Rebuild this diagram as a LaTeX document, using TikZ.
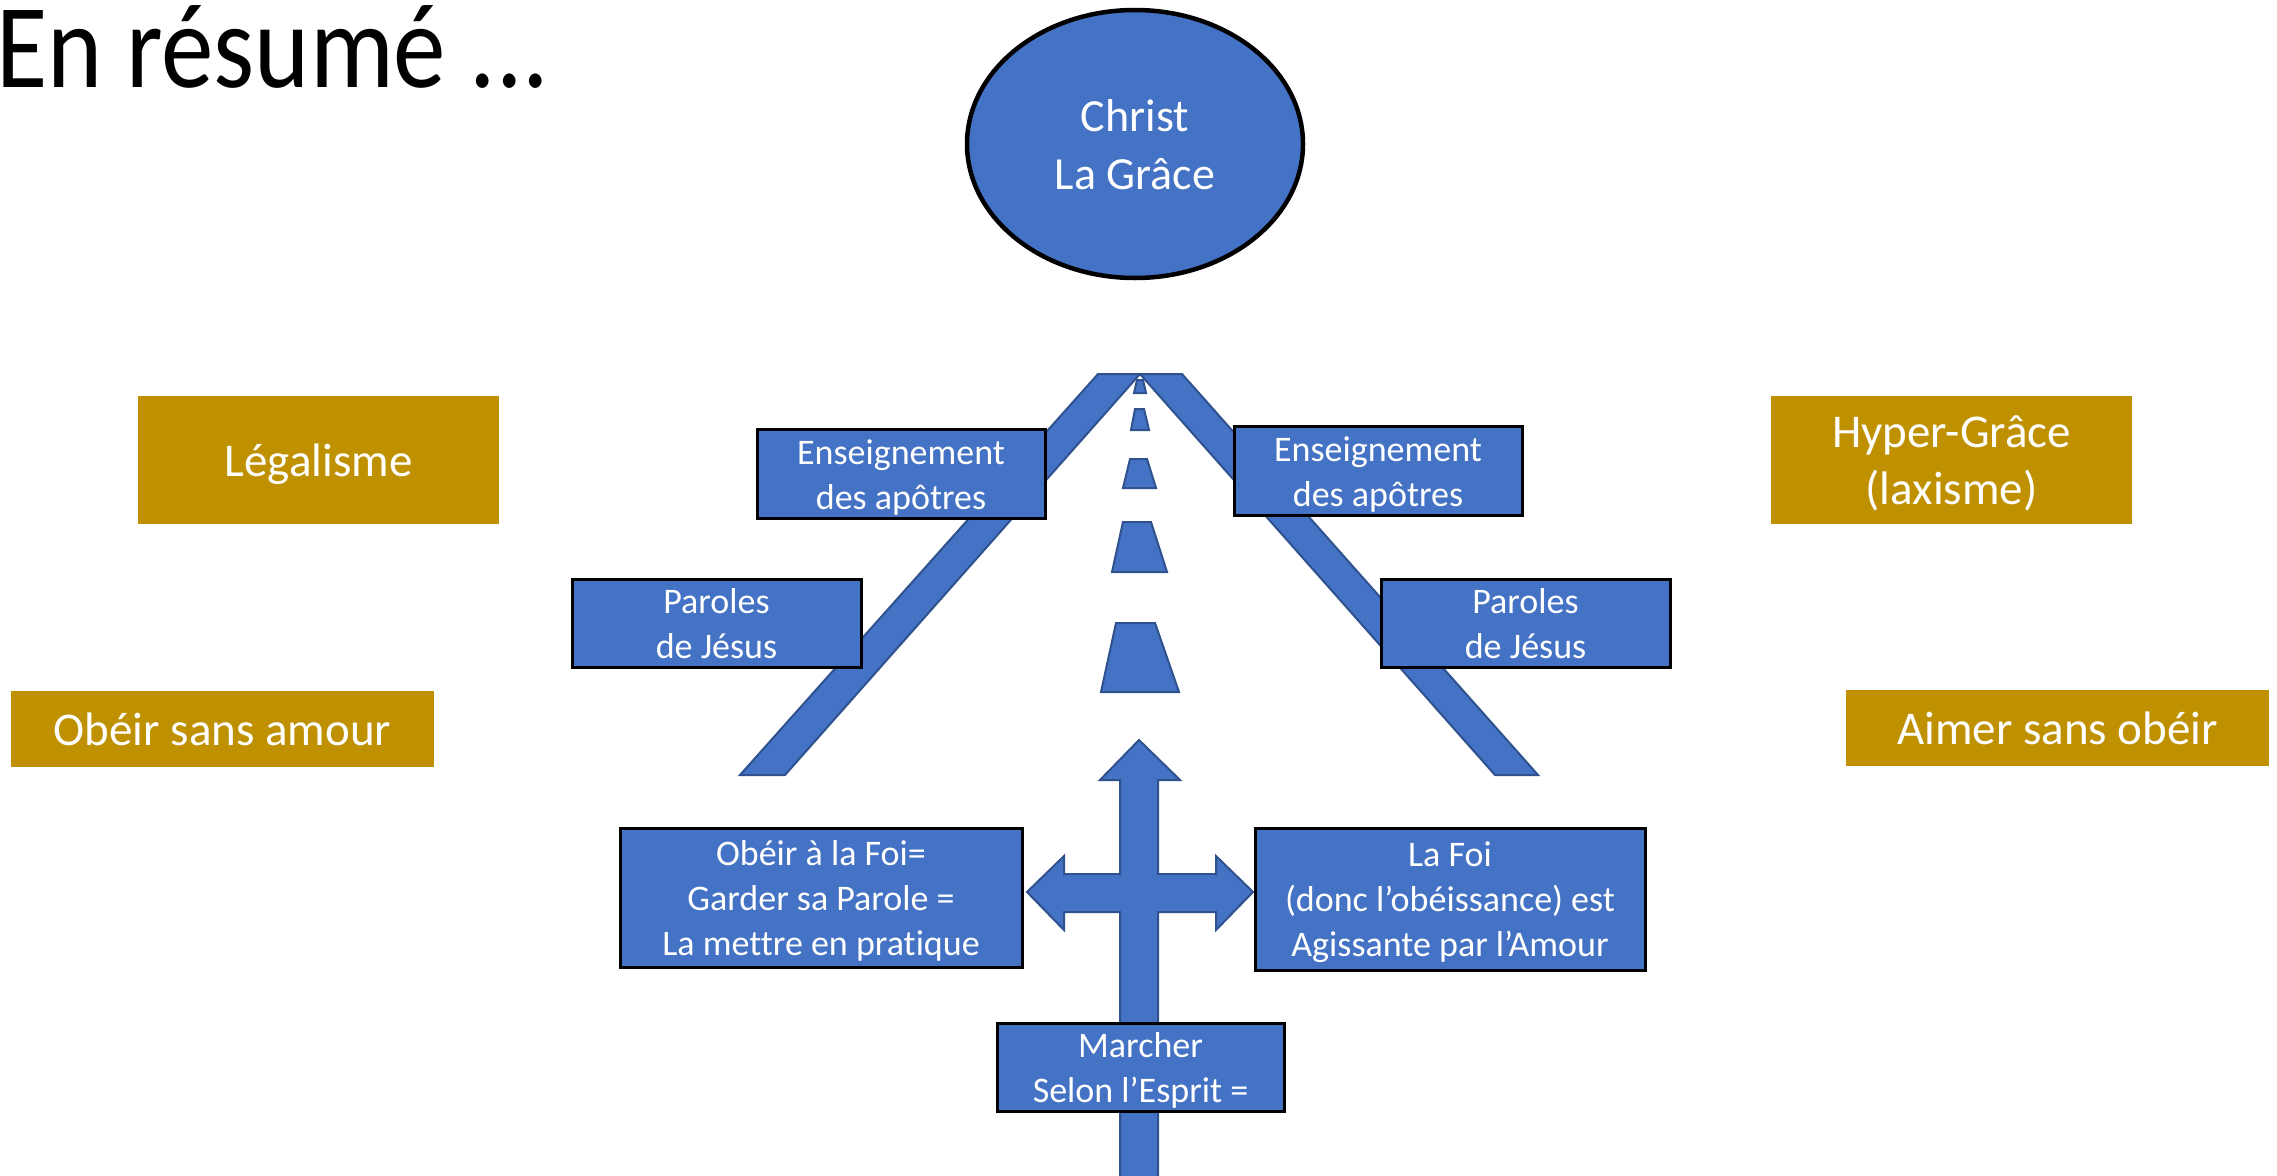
\documentclass[tikz,border=0pt]{standalone}
\usepackage{fontspec}
\usepackage{graphicx}
\setmainfont{Carlito}[Ligatures=NoCommon]
\usetikzlibrary{shapes.geometric}
\definecolor{ppblue}{HTML}{4472C4}
\definecolor{ppdark}{HTML}{2F528F}
\definecolor{ppgold}{HTML}{BF9000}
\newcommand\myTop{\rule{0pt}{0.95em}}
\newcommand\myBot{\rule[-0.25em]{0pt}{0.25em}}
\tikzset{
  bluebox/.style={draw=black, line width=3pt, fill=ppblue, text=white, align=center,
    inner sep=0pt, font=\fontsize{36}{45}\selectfont},
  goldbox/.style={fill=ppgold, text=white, align=center, inner sep=0pt,
    font=\fontsize{47}{57}\selectfont},
  roadpart/.style={fill=ppblue, draw=ppdark, line width=2pt, line join=miter},
}
\begin{document}
\begin{tikzpicture}[x=1pt,y=-1pt]
\useasboundingbox[fill=white] (0,0) rectangle (2277,1175);

% title
\node[anchor=base west, inner sep=0pt, font=\fontsize{120}{144}\selectfont] (title) at (-4,87) {\scalebox{0.875}[1]{En résumé ...}};

% Christ
\node[ellipse, draw=black, line width=4.5pt, fill=ppblue, text=white, align=center,
  minimum width=336pt, minimum height=268pt, inner sep=0pt,
  font=\fontsize{46}{58}\selectfont] (christ) at (1135,144) {\myTop Christ\\La Grâce\myBot};

% road borders
\draw[roadpart] (1098,374) -- (1140,374) -- (785,775) -- (740,775) -- cycle;
\draw[roadpart] (1140,374) -- (1182,374) -- (1538,775) -- (1495,775) -- cycle;

% dashes
\draw[roadpart] (1137,380) -- (1143,380) -- (1146,393) -- (1134,393) -- cycle;
\draw[roadpart] (1135,409) -- (1144,409) -- (1149,430) -- (1131,430) -- cycle;
\draw[roadpart] (1130,459) -- (1147,459) -- (1156,488) -- (1123,488) -- cycle;
\draw[roadpart] (1123,522) -- (1151,522) -- (1167,572) -- (1112,572) -- cycle;
\draw[roadpart] (1116,623) -- (1155,623) -- (1179,692) -- (1101,692) -- cycle;

% arrows cross
\draw[roadpart] (1120,1180) -- (1120,912) -- (1064,912) -- (1064,930) -- (1027,892)
  -- (1064,856) -- (1064,874) -- (1120,874) -- (1120,780) -- (1100,780) -- (1139,740)
  -- (1180,780) -- (1158,780) -- (1158,874) -- (1216,874) -- (1216,856) -- (1253,892)
  -- (1216,930) -- (1216,912) -- (1158,912) -- (1158,1180) -- cycle;

% blue boxes
\node[bluebox, minimum width=288pt, minimum height=86pt] (ea1) at (901,474) {\myTop Enseignement\\des apôtres\myBot};
\node[bluebox, minimum width=288pt, minimum height=84pt] (ea2) at (1378,471) {\myTop Enseignement\\des apôtres\myBot};
\node[bluebox, minimum width=289pt, minimum height=85pt] (pj1) at (716.5,623.5) {\myTop Paroles\\de Jésus\myBot};
\node[bluebox, minimum width=289pt, minimum height=85pt] (pj2) at (1525.5,623.5) {\myTop Paroles\\de Jésus\myBot};
\node[bluebox, minimum width=402pt, minimum height=139pt] (ob) at (821,897.5) {\myTop Obéir à la Foi=\\Garder sa Parole =\\La mettre en pratique\myBot};
\node[bluebox, minimum width=390pt, minimum height=142pt] (lf) at (1450,899) {\myTop La Foi\\(donc l’obéissance) est\\Agissante par l’Amour\myBot};
\node[bluebox, minimum width=287pt, minimum height=85pt] (mar) at (1140.5,1067.5) {\myTop Marcher\\Selon l’Esprit =\myBot};

% gold boxes
\node[goldbox, minimum width=361pt, minimum height=128pt] (leg) at (318.5,460) {\myTop Légalisme\myBot};
\node[goldbox, minimum width=423pt, minimum height=76pt] (osa) at (222.5,729) {\myTop Obéir sans amour\myBot};
\node[goldbox, minimum width=361pt, minimum height=128pt] (hg) at (1951.5,460) {\myTop Hyper-Grâce\\(laxisme)\myBot};
\node[goldbox, minimum width=423pt, minimum height=76pt] (aso) at (2057.5,728) {\myTop Aimer sans obéir\myBot};
\end{tikzpicture}
\end{document}
